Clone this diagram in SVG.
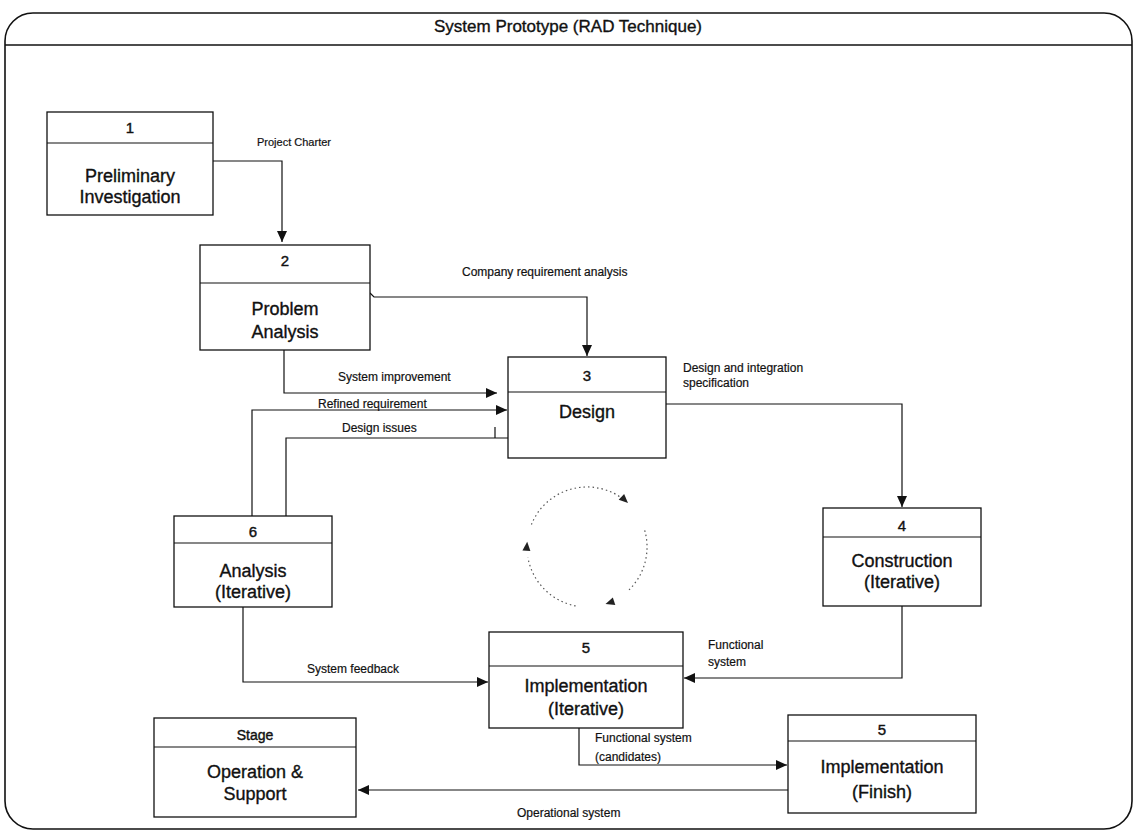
<svg xmlns="http://www.w3.org/2000/svg" width="1136" height="834" viewBox="0 0 1136 834">
<defs>
<style>
.box{fill:#fff;stroke:#111;stroke-width:1.3}
.div{stroke:#111;stroke-width:1.2}
.num{font-family:"Liberation Sans",Arial,sans-serif;font-size:15px;fill:#111;text-anchor:middle;stroke:#111;stroke-width:0.4}
.ttl{font-family:"Liberation Sans",Arial,sans-serif;font-size:18px;fill:#111;text-anchor:middle;stroke:#111;stroke-width:0.35}
.lbl{font-family:"Liberation Sans",Arial,sans-serif;font-size:12px;fill:#111;stroke:#111;stroke-width:0.2}
.con{fill:none;stroke:#111;stroke-width:1.2}
.cyc{fill:none;stroke:#555;stroke-width:1.2;stroke-dasharray:1.5 3}
</style>
<marker id="arr" markerUnits="userSpaceOnUse" markerWidth="12" markerHeight="10" refX="11" refY="5" orient="auto">
<path d="M0,0 L11,5 L0,10 Z" fill="#111"/>
</marker>
</defs>
<rect width="1136" height="834" fill="#fff"/>
<g id="frame">
<rect x="5" y="13" width="1127" height="816" rx="28" ry="28" fill="none" stroke="#111" stroke-width="1.6"/>
<line x1="5" y1="45" x2="1132" y2="45" stroke="#111" stroke-width="1.5"/>
<text x="568" y="32" class="ttl" style="font-size:17px">System Prototype (RAD Technique)</text>
</g>
<g id="connectors">
<path class="con" d="M213,161 H282 V242" marker-end="url(#arr)"/>
<text class="lbl" x="257" y="146" style="font-size:11px">Project Charter</text>
<path class="con" d="M370,293 L374,297 H587 V356" marker-end="url(#arr)"/>
<text class="lbl" x="462" y="276">Company requirement analysis</text>
<path class="con" d="M284,350 V393 H497" marker-end="url(#arr)"/>
<text class="lbl" x="338" y="381">System improvement</text>
<path class="con" d="M252,516 V410 H507" marker-end="url(#arr)"/>
<text class="lbl" x="318" y="408">Refined requirement</text>
<path class="con" d="M286,516 V438 H508 M495,427 V438"/>
<text class="lbl" x="342" y="432">Design issues</text>
<path class="con" d="M666,404 H902 V507" marker-end="url(#arr)"/>
<text class="lbl" x="683" y="372">Design and integration</text>
<text class="lbl" x="683" y="387">specification</text>
<path class="con" d="M902,606 V678 H684" marker-end="url(#arr)"/>
<text class="lbl" x="708" y="649">Functional</text>
<text class="lbl" x="708" y="666">system</text>
<path class="con" d="M243,607 V682 H488" marker-end="url(#arr)"/>
<text class="lbl" x="307" y="673">System feedback</text>
<path class="con" d="M579,728 V765 H787" marker-end="url(#arr)"/>
<text class="lbl" x="595" y="742">Functional system</text>
<text class="lbl" x="595" y="761">(candidates)</text>
<path class="con" d="M788,790 H358" marker-end="url(#arr)"/>
<text class="lbl" x="517" y="817">Operational system</text>
</g>
<g id="cycle">
<path class="cyc" d="M531.4,524.5 A60,60 0 0 1 624,499.7"/>
<path class="cyc" d="M644.7,530.4 A60,60 0 0 1 628.7,590.2"/>
<path class="cyc" d="M575.6,605.9 A60,60 0 0 1 527.9,557.4"/>
<polygon points="0,0 -9,-4 -9,4" fill="#222" transform="translate(628,503) rotate(43)"/>
<polygon points="0,0 -9,-4 -9,4" fill="#222" transform="translate(605.5,604.1) rotate(162)"/>
<polygon points="0,0 -9,-4 -9,4" fill="#222" transform="translate(527.2,541.8) rotate(-85)"/>
</g>
<g id="node1">
<rect class="box" x="47" y="112" width="166" height="103"/>
<line class="div" x1="47" y1="143" x2="213" y2="143"/>
<text class="num" x="130" y="133">1</text>
<text class="ttl" x="130" y="182">Preliminary</text>
<text class="ttl" x="130" y="203">Investigation</text>
</g>
<g id="node2">
<rect class="box" x="200" y="245" width="170" height="105"/>
<line class="div" x1="200" y1="283" x2="370" y2="283"/>
<text class="num" x="285" y="266">2</text>
<text class="ttl" x="285" y="315">Problem</text>
<text class="ttl" x="285" y="338">Analysis</text>
</g>
<g id="node3">
<rect class="box" x="508" y="357" width="158" height="101"/>
<line class="div" x1="508" y1="392" x2="666" y2="392"/>
<text class="num" x="587" y="381">3</text>
<text class="ttl" x="587" y="418">Design</text>
</g>
<g id="node4">
<rect class="box" x="823" y="508" width="158" height="98"/>
<line class="div" x1="823" y1="537" x2="981" y2="537"/>
<text class="num" x="902" y="531">4</text>
<text class="ttl" x="902" y="567">Construction</text>
<text class="ttl" x="902" y="588">(Iterative)</text>
</g>
<g id="node6">
<rect class="box" x="174" y="516" width="158" height="91"/>
<line class="div" x1="174" y1="543" x2="332" y2="543"/>
<text class="num" x="253" y="537">6</text>
<text class="ttl" x="253" y="577">Analysis</text>
<text class="ttl" x="253" y="598">(Iterative)</text>
</g>
<g id="node5a">
<rect class="box" x="489" y="632" width="194" height="96"/>
<line class="div" x1="489" y1="666" x2="683" y2="666"/>
<text class="num" x="586" y="653">5</text>
<text class="ttl" x="586" y="692">Implementation</text>
<text class="ttl" x="586" y="715">(Iterative)</text>
</g>
<g id="node5b">
<rect class="box" x="788" y="715" width="188" height="98"/>
<line class="div" x1="788" y1="741" x2="976" y2="741"/>
<text class="num" x="882" y="735">5</text>
<text class="ttl" x="882" y="773">Implementation</text>
<text class="ttl" x="882" y="798">(Finish)</text>
</g>
<g id="stage">
<rect class="box" x="154" y="718" width="202" height="99"/>
<line class="div" x1="154" y1="747" x2="356" y2="747"/>
<text class="num" x="255" y="740" style="font-size:14px">Stage</text>
<text class="ttl" x="255" y="778">Operation &amp;</text>
<text class="ttl" x="255" y="800">Support</text>
</g>
</svg>
